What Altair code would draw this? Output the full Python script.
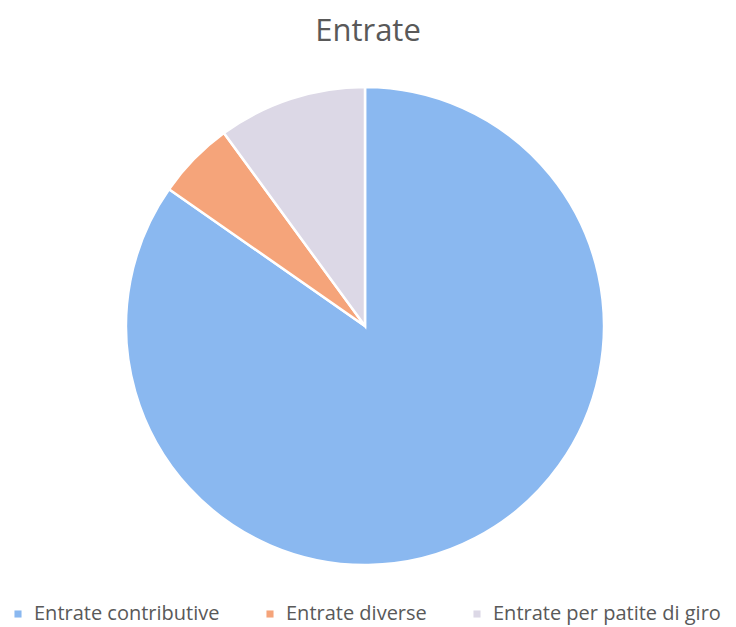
import altair as alt
import pandas as pd

categories = ["Entrate contributive", "Entrate diverse", "Entrate per patite di giro"]
values = [84.7, 5.25, 10.05]
colors = ["#8AB8F0", "#F5A47A", "#DCD8E6"]

df = pd.DataFrame({"cat": categories, "val": values, "ord": [0, 1, 2]})

chart = alt.Chart(df).mark_arc(
    outerRadius=239, stroke="white", strokeWidth=2.5
).encode(
    theta=alt.Theta("val:Q", stack=True),
    order=alt.Order("ord:Q"),
    color=alt.Color(
        "cat:N",
        scale=alt.Scale(domain=categories, range=colors),
        sort=categories,
        legend=alt.Legend(
            title=None,
            orient="none",
            legendX=0,
            legendY=596,
            direction="horizontal",
            symbolType="square",
            symbolSize=50,
            symbolStrokeWidth=0,
            labelFont="Open Sans",
            labelFontSize=20,
            labelColor="#595959",
            labelOffset=6,
            columnPadding=40,
            labelLimit=400,
        ),
    ),
    x=alt.value(357),
    y=alt.value(318),
).properties(
    width=720,
    height=618,
    padding=0,
    autosize=alt.AutoSizeParams(type="none"),
    title=alt.TitleParams(
        "Entrate", font="Open Sans", fontSize=31, fontWeight="normal",
        color="#595959", anchor="middle", offset=-40, dy=0
    ),
).configure_view(stroke=None)

chart.save("out.html", embed_options={"renderer": "svg", "actions": False})
